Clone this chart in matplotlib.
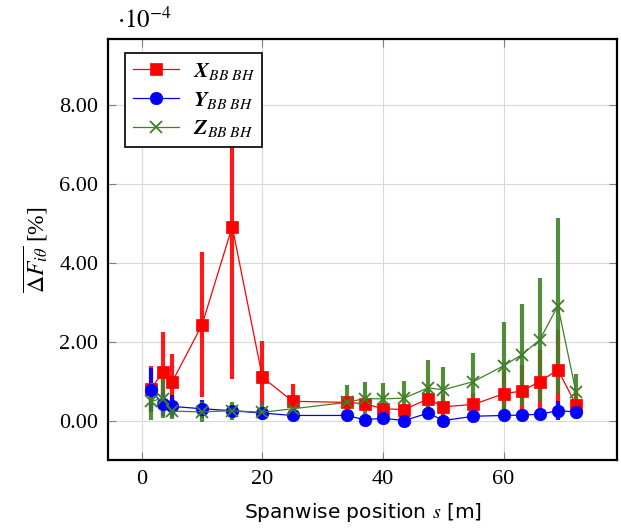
import matplotlib.pyplot as plt
import numpy as np

plt.rcParams['mathtext.fontset'] = 'stix'
plt.rcParams['font.family'] = ['Liberation Serif', 'DejaVu Serif']

# spanwise positions [m] and values (units of 1e-4)
s_pos = [1.5, 3.5, 5.0, 10.0, 15.0, 20.0, 25.0, 34.0, 37.0, 40.0, 43.5,
         47.5, 50.0, 55.0, 60.0, 63.0, 66.0, 69.0, 72.0]

x_val = [0.81, 1.22, 0.97, 2.43, 4.92, 1.10, 0.49, 0.46, 0.43, 0.30, 0.28,
         0.55, 0.35, 0.41, 0.68, 0.75, 0.99, 1.29, 0.40]
x_err = [0.58, 1.03, 0.72, 1.84, 3.86, 0.91, 0.44, 0.15, 0.15, 0.15, 0.15,
         0.30, 0.30, 0.30, 0.60, 0.65, 0.80, 1.00, 0.37]

y_val = [0.77, 0.42, 0.36, 0.30, 0.25, 0.19, 0.13, 0.13, 0.02, 0.06, 0.00,
         0.19, 0.00, 0.11, 0.13, 0.14, 0.16, 0.25, 0.22]
y_err = [0.56, 0.30, 0.28, 0.23, 0.12, 0.10, 0.10, 0.10, 0.10, 0.08, 0.08,
         0.15, 0.10, 0.08, 0.08, 0.08, 0.08, 0.24, 0.12]

z_val = [0.49, 0.56, 0.24, 0.22, 0.25, 0.21, 0.30, 0.46, 0.56, 0.55, 0.57,
         0.83, 0.78, 0.99, 1.39, 1.67, 2.05, 2.91, 0.72]
z_err = [0.47, 0.50, 0.21, 0.25, 0.23, 0.20, 0.15, 0.43, 0.42, 0.40, 0.43,
         0.71, 0.57, 0.72, 1.10, 1.29, 1.56, 2.22, 0.46]

labels = [r'$\mathbfit{X}_{BB\ BH}$', r'$\mathbfit{Y}_{BB\ BH}$', r'$\mathbfit{Z}_{BB\ BH}$']
green = (0.25, 0.50, 0.15)

fig = plt.figure(figsize=(6.21, 5.29), dpi=100)
ax = fig.add_axes([108/621, 69/529, 509/621, 421/529])

series = [(x_val, x_err, 'red', 's', 9), (y_val, y_err, 'blue', 'o', 9),
          (z_val, z_err, green, 'x', 8)]
for i, (v, e, c, m, ms) in enumerate(series):
    ax.errorbar(s_pos, v, yerr=e, fmt='none', ecolor=c, elinewidth=3,
                capsize=0, alpha=0.9, zorder=2)
for i, (v, e, c, m, ms) in enumerate(series):
    ax.plot(s_pos, v, color=c, marker=m, markersize=ms, linewidth=0.9,
            markeredgewidth=1.3 if m == 'x' else 0.5, label=labels[i],
            zorder=3 + i)

ax.set_xlim(-5.6, 78.8)
ax.set_ylim(-1.0, 9.68)
ax.set_xticks([0, 20, 40, 60])
ax.set_yticks([0, 2, 4, 6, 8])
ax.set_yticklabels(['%.2f' % t for t in [0, 2, 4, 6, 8]])
ax.grid(color='#d9d9d9', linewidth=0.8)
ax.set_axisbelow(True)
ax.tick_params(direction='in', length=6, color='#808080', top=True,
               right=True, labelsize=16, pad=7)
for sp in ax.spines.values():
    sp.set_linewidth(1.6)

ax.set_xlabel(r'Spanwise position $s$ [m]', fontsize=14.5,
              family='DejaVu Sans', labelpad=9)
ax.set_ylabel(r'$\overline{\Delta F_{i\theta}}$ [%]', fontsize=17, labelpad=7)
fig.text(117/621, 1 - 20/529, r'$\cdot 10^{-4}$', fontsize=18, va='center')

leg = ax.legend(loc='upper left', fontsize=16, fancybox=False,
                edgecolor='black', framealpha=1, borderpad=0.35,
                handlelength=2.1, handletextpad=0.6, labelspacing=0.35,
                borderaxespad=0, bbox_to_anchor=(17/509, 1 - 14/421))
leg.get_frame().set_linewidth(1.2)

fig.savefig('out.png', dpi=100)
